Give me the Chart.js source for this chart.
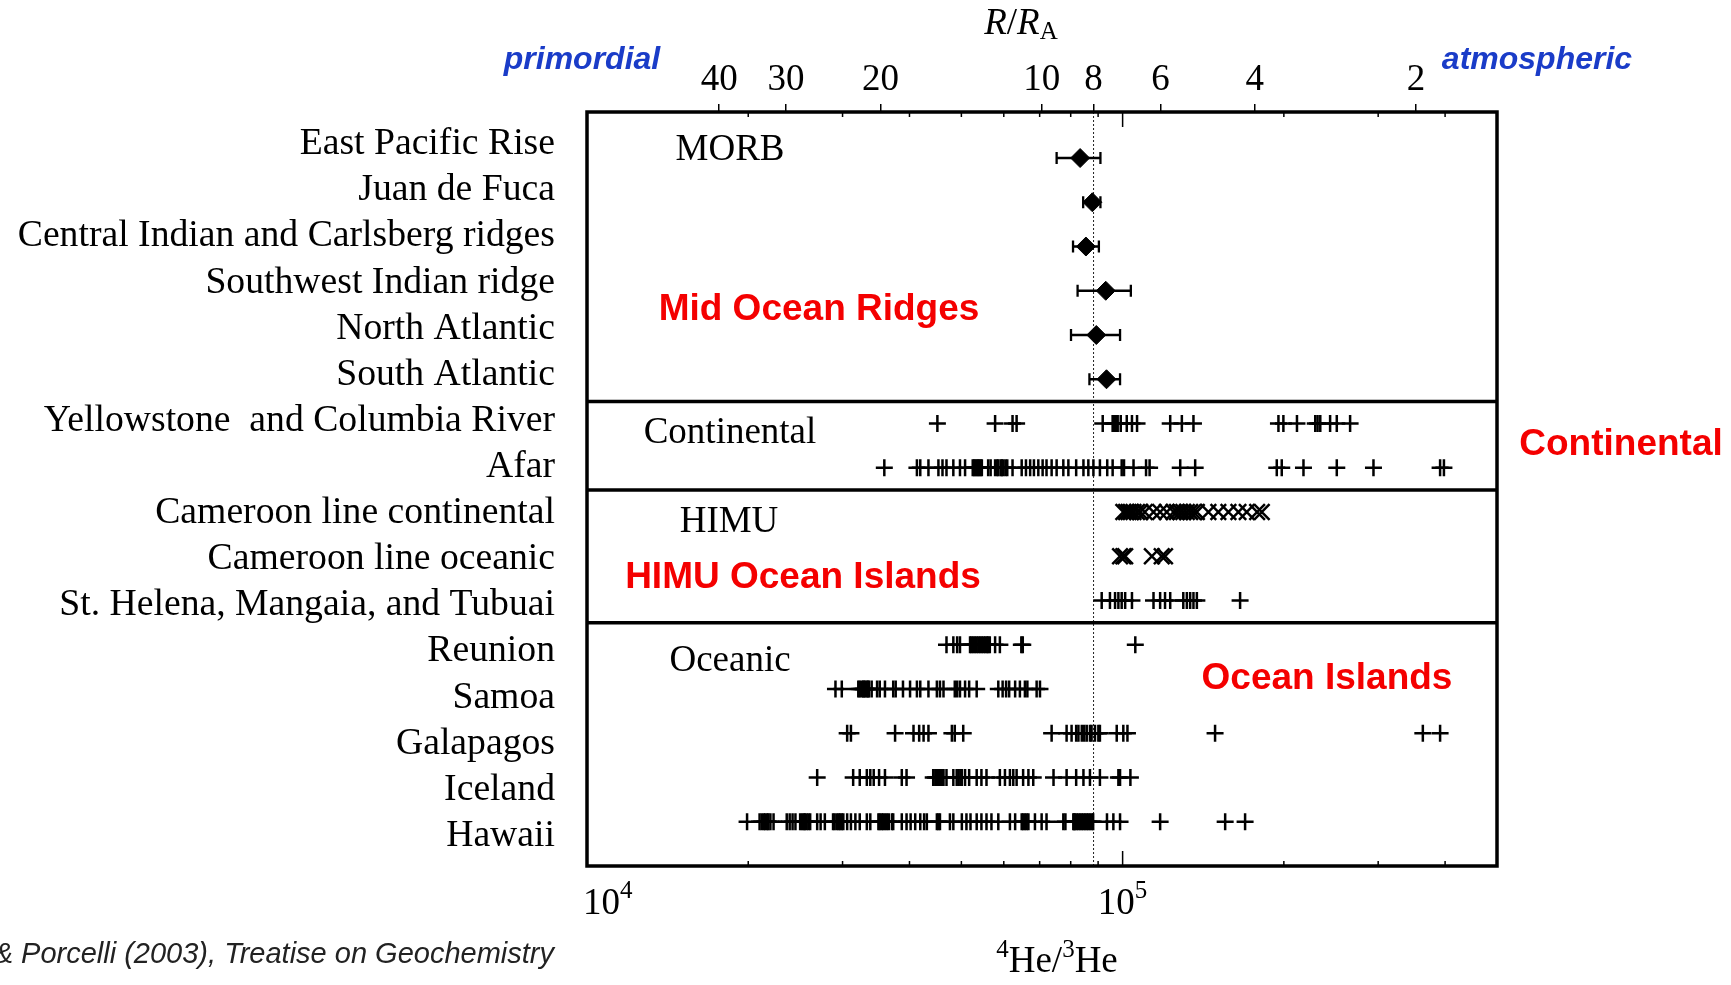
<!DOCTYPE html>
<html>
<head>
<meta charset="utf-8">
<script src="https://cdn.jsdelivr.net/npm/chart.js@4.4.1/dist/chart.umd.min.js"></script>
<style>
  html, body { margin: 0; padding: 0; background: #fff; }
  #wrap { position: relative; width: 1731px; height: 985px; }
</style>
</head>
<body>
<div id="wrap"><canvas id="chart"></canvas></div>
<script>
// ---- data (4He/3He in thousands) ----
const rowLabels = [
  'East Pacific Rise', 'Juan de Fuca', 'Central Indian and Carlsberg ridges',
  'Southwest Indian ridge', 'North Atlantic', 'South Atlantic',
  'Yellowstone  and Columbia River', 'Afar',
  'Cameroon line continental', 'Cameroon line oceanic', 'St. Helena, Mangaia, and Tubuai',
  'Reunion', 'Samoa', 'Galapagos', 'Iceland', 'Hawaii'
];
const rTicks = [40, 30, 20, 10, 8, 6, 4, 2];          // R/RA, top axis
const decadeTicks = [1e4, 1e5];                        // bottom axis labels
const minorTicks = [2e4, 3e4, 4e4, 5e4, 6e4, 7e4, 8e4, 9e4, 2e5, 3e5, 4e5];
const ATM = 7.06e5;                                    // 4He/3He of air (R/RA = 1)

// MORB means with ranges
const morbMean = [83.3, 87.8, 85.4, 93.0, 89.3, 93.3];
const morbLow  = [75.3, 84.4, 80.8, 82.4, 80.1, 86.7];
const morbHigh = [90.9, 90.9, 90.3, 103.6, 98.9, 98.9];

const yellowstone = [45.1, 57.8, 62.3, 63.4, 91.8, 95.8, 96.3, 96.8, 97.3, 97.9, 99.2, 101.8,
  104.1, 106.4, 122.7, 129.0, 135.6, 195.4, 199.6, 211.6, 228.9, 231.2, 233.9, 244, 251.1, 265.9];
const afar = [35.9, 41.3, 41.9, 43.4, 45.3, 46.1, 46.9, 48.3, 49.7, 50.8, 52.5, 52.8, 53.1, 53.4,
  53.7, 54.0, 54.3, 54.6, 56.1, 56.7, 57.8, 58.3, 58.6, 59.2, 59.5, 59.8, 60.4, 60.9, 62.3, 64.8,
  66.0, 67.2, 68.3, 69.6, 70.9, 72.1, 73.7, 75.3, 77.5, 79.2, 81.9, 84.5, 86.3, 88.2, 90.7, 93.6,
  95.8, 99.6, 100.6, 104.8, 110.6, 112.3, 128.1, 136.6, 194, 198.2, 217.6, 251.1, 294, 391.5, 398];
const camCont = [100.3, 101.5, 102.6, 103.6, 104.8, 106.4, 107.9, 110.0, 114.2, 117.5, 120.9,
  124.5, 126.3, 128.1, 129.8, 131.8, 133.7, 135.6, 137.6, 144.6, 150.9, 157.6, 164.5, 170.5,
  178.3, 181.9];
const camOcean = [98.9, 100.3, 101.1, 113.4, 118.3, 120.0];
const stHelena = [91.4, 94.7, 96.8, 98.2, 99.6, 101.1, 104.1, 114.2, 117.5, 120.0, 122.7, 129.8,
  131.8, 133.7, 135.6, 137.6, 165.7];
const reunion = [46.9, 48.3, 49.1, 49.7, 51.9, 52.2, 52.6, 53.0, 53.4, 53.8, 54.2, 54.6, 55.0,
  55.4, 55.8, 56.1, 56.5, 57.8, 59.0, 64.7, 65.1, 105.6];
const samoa = [29.1, 29.9, 32.1, 32.3, 32.6, 32.8, 32.9, 33.1, 33.3, 33.5, 33.6, 34.0, 34.8, 35.2,
  36.0, 37.3, 37.7, 38.9, 40.1, 41.3, 41.9, 43.4, 45.0, 45.6, 46.3, 48.6, 49.1, 49.7, 50.8, 51.7,
  53.4, 58.6, 59.7, 60.6, 61.4, 63.0, 64.3, 65.7, 66.4, 69.1, 70.1];
const galapagos = [30.6, 31.1, 37.6, 40.7, 41.7, 42.5, 43.4, 48.0, 48.6, 50.4, 73.7, 78.6, 80.3,
  81.9, 82.7, 83.9, 84.8, 85.7, 86.9, 87.5, 88.8, 90.1, 90.7, 97.5, 100.3, 102.1, 148.8, 363.5, 391.5];
const iceland = [26.9, 31.4, 32.3, 33.3, 33.8, 34.3, 35.1, 36.0, 38.7, 39.5, 44.3, 44.7, 45.0,
  45.3, 45.6, 46.0, 46.3, 46.9, 48.3, 49.0, 49.4, 49.8, 50.1, 50.8, 51.7, 53.4, 54.5, 55.7, 59.0,
  60.3, 61.6, 62.5, 63.4, 65.2, 66.7, 68.1, 74.3, 78.6, 81.9, 84.5, 86.9, 90.7, 98.2, 98.9, 103.4];
const hawaii = [19.9, 21.0, 21.2, 21.4, 21.5, 21.7, 21.8, 22.0, 22.3, 23.6, 23.9, 24.2, 24.5, 25.0,
  25.2, 25.4, 25.5, 25.7, 25.9, 26.1, 26.9, 27.3, 27.8, 28.8, 29.0, 29.3, 29.5, 29.7, 29.9, 30.1,
  30.6, 31.1, 31.7, 32.3, 33.3, 33.8, 35.0, 35.2, 35.5, 35.7, 36.0, 36.3, 36.6, 37.1, 37.3, 38.7,
  39.5, 40.2, 41.0, 41.9, 42.6, 43.1, 45.0, 45.3, 45.6, 47.6, 48.3, 50.1, 51.1, 52.0, 53.4, 54.5,
  55.7, 56.9, 58.6, 61.6, 63.0, 64.8, 65.2, 65.7, 66.2, 66.7, 68.6, 70.6, 72.1, 77.5, 78.2, 80.9,
  81.2, 81.5, 82.1, 82.7, 83.3, 83.9, 84.5, 85.1, 85.7, 86.3, 86.9, 87.6, 88.1, 93.5, 96.1, 98.9,
  117.5, 155.4, 169.3];

// ---- datasets ----
const SERIF = '"Liberation Serif", "Times New Roman", serif';
const SANS = '"Liberation Sans", Arial, sans-serif';

const rows = [
  [yellowstone, 6, 'cross'], [afar, 7, 'cross'],
  [camCont, 8, 'crossRot'], [camOcean, 9, 'crossRot'], [stHelena, 10, 'cross'],
  [reunion, 11, 'cross'], [samoa, 12, 'cross'], [galapagos, 13, 'cross'],
  [iceland, 14, 'cross'], [hawaii, 15, 'cross']
];

const datasets = [{
  data: morbMean.map((v, i) => ({ x: v * 1e3, y: i })),
  pointStyle: 'rectRot', pointRadius: 9.5,
  backgroundColor: '#000', borderColor: '#000', borderWidth: 1
}];
rows.forEach(([vals, row, style]) => {
  datasets.push({
    data: vals.map(v => ({ x: v * 1e3, y: row })),
    pointStyle: style,
    pointRadius: style === 'cross' ? 8.5 : 11,
    borderColor: '#000', backgroundColor: '#000', borderWidth: 2.5
  });
});

// draw text made of pieces (for super/subscripts), centred on cx
function drawParts(ctx, parts, cx, base) {
  let w = 0;
  parts.forEach(p => { ctx.font = p[1]; w += ctx.measureText(p[0]).width; });
  let xx = cx - w / 2;
  ctx.textAlign = 'left';
  ctx.textBaseline = 'alphabetic';
  parts.forEach(p => {
    ctx.font = p[1];
    ctx.fillText(p[0], xx, base + p[2]);
    xx += ctx.measureText(p[0]).width;
  });
  return w;
}

function label(ctx, text, font, color, x, y, align) {
  ctx.font = font;
  ctx.fillStyle = color;
  ctx.textAlign = align || 'center';
  ctx.textBaseline = 'middle';
  ctx.fillText(text, x, y);
}

const decor = {
  id: 'decor',
  beforeDatasetsDraw(chart) {
    const { ctx, chartArea: a, scales: { x, y } } = chart;
    ctx.save();
    // R/RA = 8 reference
    const x8 = x.getPixelForValue(ATM / 8);
    ctx.setLineDash([2, 2]);
    ctx.lineWidth = 1;
    ctx.strokeStyle = '#222';
    ctx.beginPath();
    ctx.moveTo(x8, a.top);
    ctx.lineTo(x8, a.bottom);
    ctx.stroke();
    ctx.setLineDash([]);
    // MORB error bars
    ctx.lineWidth = 2.3;
    ctx.strokeStyle = '#000';
    morbMean.forEach((_, i) => {
      const yy = y.getPixelForValue(i);
      const x0 = x.getPixelForValue(morbLow[i] * 1e3);
      const x1 = x.getPixelForValue(morbHigh[i] * 1e3);
      ctx.beginPath();
      ctx.moveTo(x0, yy); ctx.lineTo(x1, yy);
      ctx.moveTo(x0, yy - 6); ctx.lineTo(x0, yy + 6);
      ctx.moveTo(x1, yy - 6); ctx.lineTo(x1, yy + 6);
      ctx.stroke();
    });
    ctx.restore();
  },
  afterDraw(chart) {
    const { ctx, chartArea: a, scales: { x, y } } = chart;
    ctx.save();
    ctx.strokeStyle = '#000';
    ctx.fillStyle = '#000';

    // frame and group dividers
    ctx.lineWidth = 3.5;
    ctx.strokeRect(a.left, a.top, a.right - a.left, a.bottom - a.top);
    [5.5, 7.5, 10.5].forEach(v => {
      const yy = y.getPixelForValue(v);
      ctx.beginPath();
      ctx.moveTo(a.left, yy);
      ctx.lineTo(a.right, yy);
      ctx.stroke();
    });

    // inward ticks, top and bottom
    ctx.lineWidth = 1.5;
    minorTicks.concat([1e5]).forEach(v => {
      const px = x.getPixelForValue(v);
      const len = v === 1e5 ? 15 : 5;
      ctx.beginPath();
      ctx.moveTo(px, a.bottom); ctx.lineTo(px, a.bottom - len);
      ctx.moveTo(px, a.top); ctx.lineTo(px, a.top + len);
      ctx.stroke();
    });

    // bottom tick labels 10^n
    decadeTicks.forEach(v => {
      const px = x.getPixelForValue(v);
      const exp = String(Math.round(Math.log10(v)));
      ctx.font = '37px ' + SERIF;
      let w = ctx.measureText('10').width;
      ctx.font = '25px ' + SERIF;
      w += ctx.measureText(exp).width;
      const cx = Math.max(px, a.left + w / 2 - 4);
      drawParts(ctx, [['10', '37px ' + SERIF, 0], [exp, '25px ' + SERIF, -16]], cx, 914);
    });

    // axis titles
    drawParts(ctx, [['4', '25px ' + SERIF, -15], ['He/', '37px ' + SERIF, 0],
      ['3', '25px ' + SERIF, -15], ['He', '37px ' + SERIF, 0]], 1057, 972);
    drawParts(ctx, [['R', 'italic 37px ' + SERIF, 0], ['/', '37px ' + SERIF, 0],
      ['R', 'italic 37px ' + SERIF, 0], ['A', '25px ' + SERIF, 5]], 1021, 34);

    // group names
    label(ctx, 'MORB', '37px ' + SERIF, '#000', 730, 150);
    label(ctx, 'Continental', '37px ' + SERIF, '#000', 730, 433);
    label(ctx, 'HIMU', '37px ' + SERIF, '#000', 729, 522);
    label(ctx, 'Oceanic', '37px ' + SERIF, '#000', 730, 661);

    const red = '#f40000';
    label(ctx, 'Mid Ocean Ridges', 'bold 37px ' + SANS, red, 819, 310);
    label(ctx, 'HIMU Ocean Islands', 'bold 37px ' + SANS, red, 803, 578);
    label(ctx, 'Ocean Islands', 'bold 37px ' + SANS, red, 1327, 679);
    label(ctx, 'Continental', 'bold 37px ' + SANS, red, 1621, 445);

    const blue = '#1a3cc8';
    label(ctx, 'primordial', 'italic bold 32px ' + SANS, blue, 582, 60);
    label(ctx, 'atmospheric', 'italic bold 32px ' + SANS, blue, 1537, 60);

    label(ctx, '& Porcelli (2003), Treatise on Geochemistry', 'italic 29px ' + SANS, '#222', 554, 955, 'right');
    ctx.restore();
  }
};

new Chart(document.getElementById('chart'), {
  type: 'scatter',
  data: { datasets },
  options: {
    responsive: true,
    maintainAspectRatio: false,
    animation: false,
    layout: { padding: { top: 0, right: 234, bottom: 119, left: 0 } },
    plugins: { legend: { display: false }, tooltip: { enabled: false } },
    scales: {
      x: {
        type: 'logarithmic', min: 1e4, max: 5e5, bounds: 'data', display: false
      },
      x2: {
        type: 'logarithmic', position: 'top', min: 1e4, max: 5e5, bounds: 'data',
        afterBuildTicks: s => { s.ticks = rTicks.map(r => ({ value: ATM / r })); },
        afterFit: s => { s.height = 112; },
        ticks: {
          autoSkip: false, maxRotation: 0, minRotation: 0, padding: 2,
          color: '#000', font: { family: SERIF, size: 37 },
          callback: (v, i) => String(rTicks[i])
        },
        grid: { drawOnChartArea: false, drawTicks: true, tickLength: 8, color: '#000', lineWidth: 1.5 },
        border: { display: false }
      },
      y: {
        type: 'linear', min: -1.04, max: 16.0, reverse: true, bounds: 'data', display: false
      },
      yLab: {
        type: 'linear', position: 'left', min: -0.7, max: 15.65, reverse: true, bounds: 'data',
        afterBuildTicks: s => { s.ticks = rowLabels.map((_, i) => ({ value: i })); },
        afterFit: s => { s.width = 587; },
        ticks: {
          autoSkip: false, padding: 32, color: '#000',
          font: { family: SERIF, size: 37.7 },
          callback: (v, i) => rowLabels[i]
        },
        grid: { display: false, drawTicks: false },
        border: { display: false }
      }
    }
  },
  plugins: [decor]
});
</script>
</body>
</html>
